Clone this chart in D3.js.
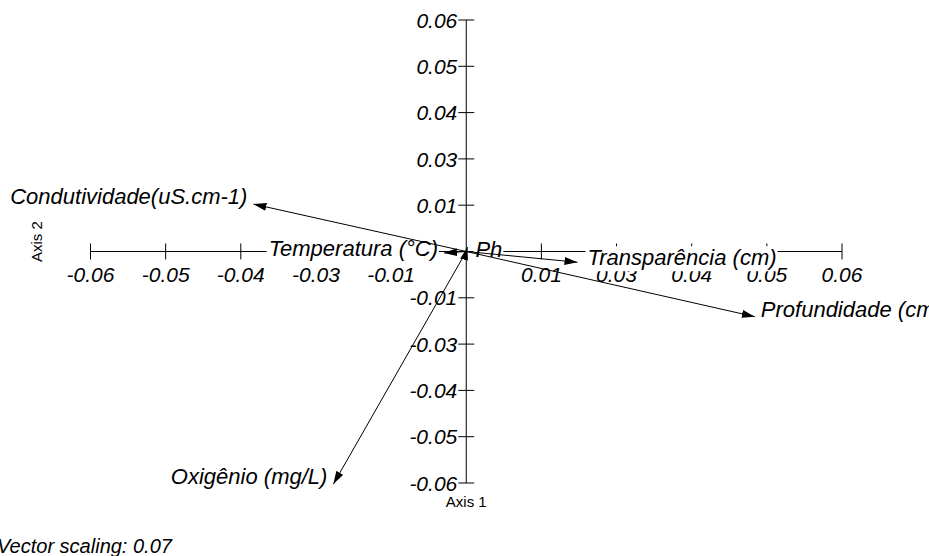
<!DOCTYPE html>
<html>
<head>
<meta charset="utf-8">
<script src="https://cdn.jsdelivr.net/npm/d3@7/dist/d3.min.js"></script>
<style>
  html, body { margin: 0; padding: 0; background: #fff; }
  svg { display: block; }
  text { font-family: "Liberation Sans", Arial, sans-serif; fill: #000; }
</style>
</head>
<body>
<svg id="chart" width="929" height="556"></svg>
<script>
// Biplot vectors (Axis 1, Axis 2 loadings)
const variables = ["Condutividade(uS.cm-1)", "Temperatura (°C)", "Ph", "Transparência (cm)", "Profundidade (cm)", "Oxigênio (mg/L)"];
const axis1 = [-0.0354, -0.0037, 0.0002, 0.0185, 0.0480, -0.0221];
const axis2 = [0.0128, -0.0004, 0.0012, -0.0029, -0.0176, -0.0628];

// Axis ticks (one step = 0.0125) and their printed labels
const xTickValues = [-0.0625, -0.05, -0.0375, -0.025, -0.0125, 0.0125, 0.025, 0.0375, 0.05, 0.0625];
const xTickLabels = ["-0.06", "-0.05", "-0.04", "-0.03", "-0.01", "0.01", "0.03", "0.04", "0.05", "0.06"];
const yTickValues = [0.0625, 0.05, 0.0375, 0.025, 0.0125, -0.0125, -0.025, -0.0375, -0.05, -0.0625];
const yTickLabels = ["0.06", "0.05", "0.04", "0.03", "0.01", "-0.01", "-0.03", "-0.04", "-0.05", "-0.06"];

const vectorScaling = "0.07";

const svg = d3.select("#chart");
const x = d3.scaleLinear().domain([-0.0625, 0.0625]).range([90.5, 842]);
const y = d3.scaleLinear().domain([-0.0625, 0.0625]).range([483, 20]);
const x0 = x(0), y0 = y(0);
const tickHalf = 8;

svg.append("defs").append("marker")
  .attr("id", "arrow")
  .attr("markerUnits", "userSpaceOnUse")
  .attr("viewBox", "0 0 13 8")
  .attr("refX", 13).attr("refY", 4)
  .attr("markerWidth", 13).attr("markerHeight", 8)
  .attr("orient", "auto")
  .append("path").attr("d", "M0,0 L13,4 L0,8 Z").attr("fill", "#000");

// Axes crossing at the origin
const axes = svg.append("g").attr("stroke", "#000").attr("stroke-width", 1);
axes.append("line").attr("x1", x(-0.0625)).attr("x2", x(0.0625)).attr("y1", y0).attr("y2", y0);
axes.append("line").attr("x1", x0).attr("x2", x0).attr("y1", y(0.0625)).attr("y2", y(-0.0625));
axes.selectAll(".xt").data(xTickValues).join("line")
  .attr("x1", d => x(d)).attr("x2", d => x(d))
  .attr("y1", y0 - tickHalf).attr("y2", y0 + tickHalf);
axes.selectAll(".yt").data(yTickValues).join("line")
  .attr("x1", x0 - tickHalf).attr("x2", x0 + tickHalf)
  .attr("y1", d => y(d)).attr("y2", d => y(d));

// Tick labels
const tickFont = { size: "21px", style: "italic" };
svg.append("g").selectAll("text").data(xTickValues).join("text")
  .attr("x", d => x(d)).attr("y", y0 + 30.5)
  .attr("text-anchor", "middle")
  .style("font-size", tickFont.size).style("font-style", tickFont.style)
  .text((d, i) => xTickLabels[i]);
svg.append("g").selectAll("text").data(yTickValues).join("text")
  .attr("x", x0 - 9).attr("y", d => y(d) + 7.6)
  .attr("text-anchor", "end")
  .style("font-size", tickFont.size).style("font-style", tickFont.style)
  .text((d, i) => yTickLabels[i]);

// Axis titles
svg.append("text").attr("x", x0).attr("y", 507)
  .attr("text-anchor", "middle").style("font-size", "15px").text("Axis 1");
svg.append("text").attr("transform", "translate(42,262) rotate(-90)")
  .attr("text-anchor", "start").style("font-size", "15px").text("Axis 2");

// Vector labels on white boxes
const vectors = variables.map((name, i) => ({ name, vx: axis1[i], vy: axis2[i] }));
const nudge = { "Ph": [2, 10], "Temperatura (°C)": [0, 3], "Transparência (cm)": [4, 3] };
const labelLayer = svg.append("g");
vectors.forEach(v => {
  const tx = x(v.vx), ty = y(v.vy);
  const left = v.vx < 0;
  const n = nudge[v.name] || [0, 0];
  const g = labelLayer.append("g");
  const rect = g.append("rect").attr("fill", "#fff");
  const t = g.append("text")
    .attr("x", tx + (left ? -6 : 6) + n[0])
    .attr("y", ty + n[1])
    .attr("text-anchor", left ? "end" : "start")
    .style("font-size", "22px").style("font-style", "italic")
    .text(v.name);
  const b = t.node().getBBox();
  rect.attr("x", b.x - 2).attr("y", b.y + 1).attr("width", b.width + 3).attr("height", b.height);
});

// Vectors from the origin
svg.append("g").selectAll("line").data(vectors).join("line")
  .attr("x1", x0).attr("y1", y0)
  .attr("x2", d => x(d.vx)).attr("y2", d => y(d.vy))
  .attr("stroke", "#000").attr("stroke-width", 1)
  .attr("marker-end", "url(#arrow)");

svg.append("text").attr("x", -3).attr("y", 553)
  .style("font-size", "20px").style("font-style", "italic")
  .text("Vector scaling: " + vectorScaling);
</script>
</body>
</html>
